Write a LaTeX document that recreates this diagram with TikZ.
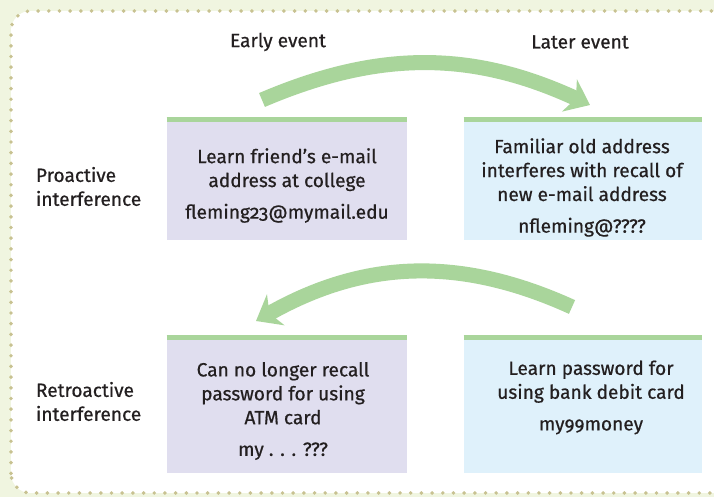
\documentclass[tikz,border=0pt]{standalone}
\usepackage{fontspec}
\setmainfont{Fira Sans}[Numbers=OldStyle, FakeBold=0.6]
\usetikzlibrary{positioning, arrows.meta}

\definecolor{frameGreen}{HTML}{F0F5E0}
\definecolor{dotTan}{HTML}{C8C291}
\definecolor{barGreen}{HTML}{A9D59B}
\definecolor{lilac}{HTML}{E0DEEF}
\definecolor{skyBlue}{HTML}{DFF1FB}
\definecolor{ink}{HTML}{231F20}

\begin{document}
\begin{tikzpicture}[
  x=0.025cm, y=0.025cm,
  font=\fontsize{13.6}{17}\selectfont, text=ink,
  eventbox/.style={minimum width=6cm, inner sep=0pt},
  boxtext/.style={align=center},
  sidelabel/.style={anchor=west, align=left},
  topbar/.style={barGreen, line width=3.6pt},
  bigarrow/.style={barGreen, line width=10.7pt,
    -{Stealth[length=16pt, width=25pt, inset=5pt]}},
]
  % Page and dotted frame
  \path[use as bounding box, fill=frameGreen] (0,0) rectangle (714,497);
  \begin{scope}
    \clip (0,0) rectangle (714,497);
    \draw[fill=white, draw=dotTan, line width=2.8pt, line cap=round,
          dash pattern=on 0pt off 7.6pt, rounded corners=14pt]
      (11,4) rectangle (740,486);
  \end{scope}

  % Column heads
  \node (early) at (278,455) {Early event};
  \node (later) at (580,455) {Later event};

  % Row labels
  \node[sidelabel] (pro) at (31,310.5) {Proactive\\interference};
  \node[sidelabel] (retro) at (31,95.5) {Retroactive\\interference};

  % Boxes
  \node[eventbox, fill=lilac, minimum height=3.075cm] (learnMail) at (287,318.5) {};
  \node[eventbox, fill=skyBlue, minimum width=5.95cm, minimum height=3.075cm] (recallMail) at (583,318.5) {};
  \node[eventbox, fill=lilac, minimum height=3.45cm] (recallPin) at (287,93) {};
  \node[eventbox, fill=skyBlue, minimum width=5.95cm, minimum height=3.45cm] (learnPin) at (583,93) {};

  % Green bars on top
  \foreach \b in {learnMail, recallMail, recallPin, learnPin}
    \draw[topbar] ([yshift=-1.8pt]\b.north west) -- ([yshift=-1.8pt]\b.north east);

  % Box texts
  \node[boxtext] (learnMailText) at (287,311.5)
    {Learn friend’s e-mail\\address at college\\[5.5pt]fleming23@mymail.edu};
  \node[boxtext] (recallMailText) at (582,309.5)
    {Familiar old address\\interferes with recall of\\new e-mail address\\[5.5pt]nfleming@????};
  \node[boxtext] (recallPinText) at (283,86)
    {Can no longer recall\\password for using\\ATM card\\[5.5pt]my . . . ???};
  \node[boxtext] (learnPinText) at (591,99.5)
    {Learn password for\\using bank debit card\\[5.5pt]my99money};

  % Arrows
  \coordinate (proStart) at (262,397);
  \coordinate (proEnd) at (590,392);
  \coordinate (retroStart) at (572,190);
  \coordinate (retroEnd) at (256,176);
  \draw[bigarrow] (proStart) to[bend left=24] (proEnd);
  \draw[bigarrow] (retroStart) to[bend right=27] (retroEnd);

\end{tikzpicture}
\end{document}
